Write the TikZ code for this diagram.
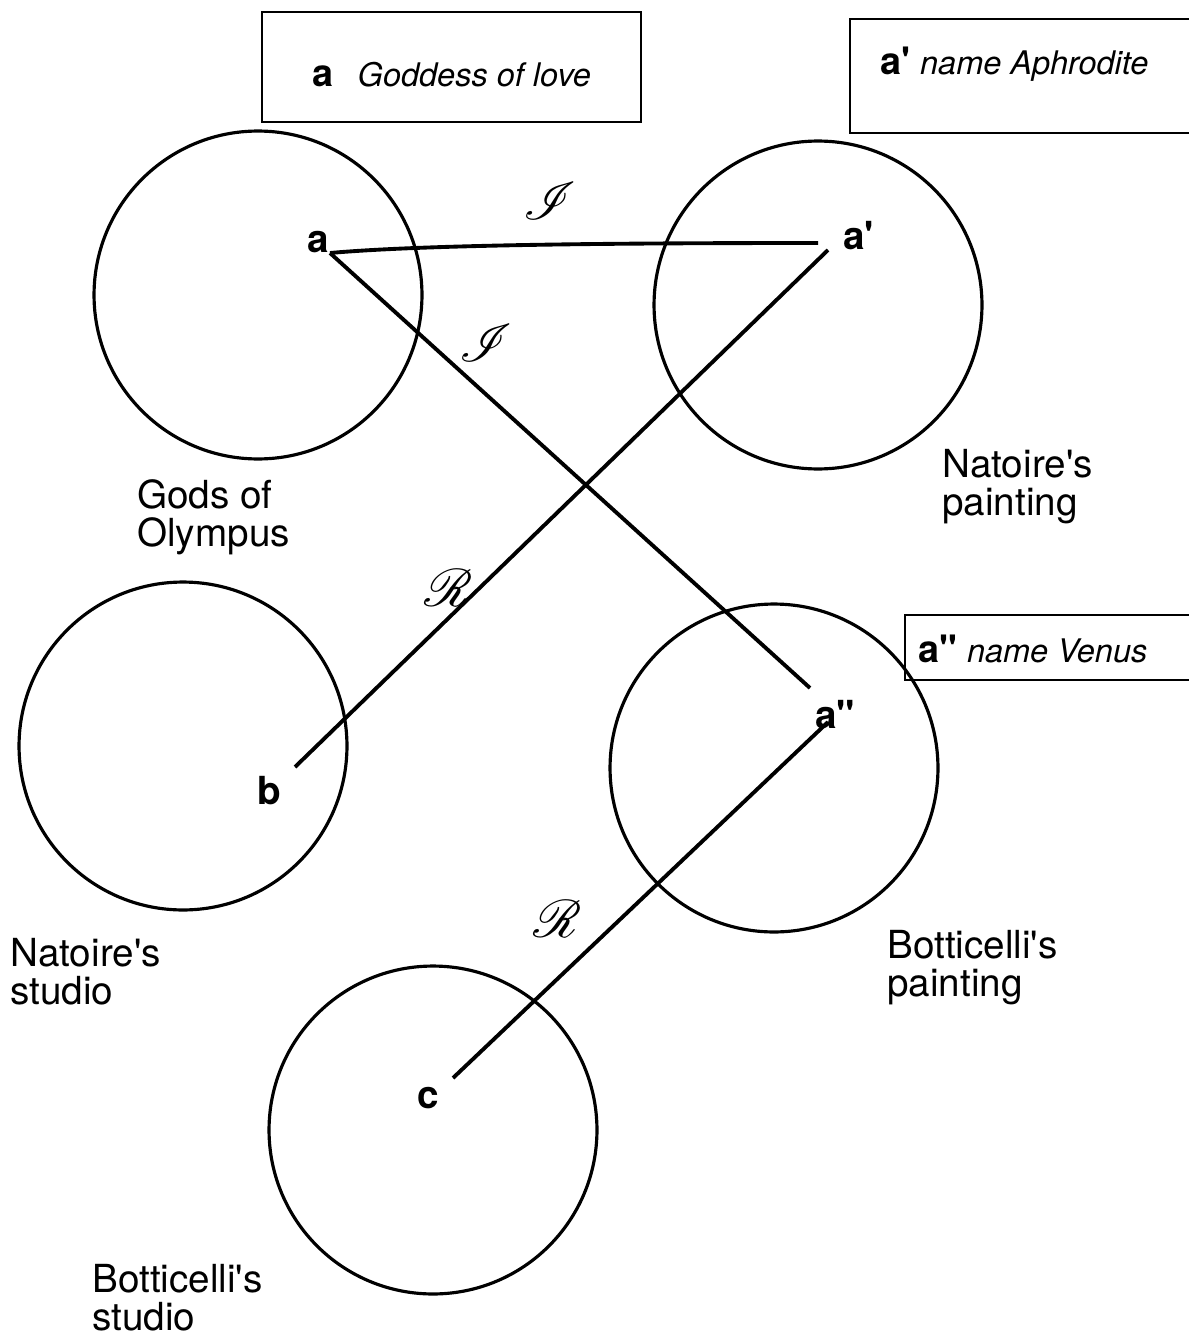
\documentclass[tikz,border=0pt]{standalone}
\usepackage{fontspec}
\setmainfont{TeX Gyre Heros}
\usepackage{mathrsfs}
\tikzset{
	world/.style={line width=1.8pt},
	link/.style={line width=2.2pt},
	tag/.style={line width=1.1pt},
	pt/.style={font=\fontsize{22}{24}\selectfont\bfseries, inner sep=0pt, anchor=base west},
	caption/.style={font=\fontsize{22}{21.5}\selectfont, align=left, inner sep=0pt, anchor=west},
	rel/.style={font=\fontsize{20}{22}\selectfont, inner sep=0pt, scale=1.45},
	tagtext/.style={font=\fontsize{18.5}{20}\selectfont, inner sep=0pt, anchor=base west}
}
\newcommand{\apos}{\textquotesingle}
\newcommand{\dapos}{\textquotedbl}
\newcommand{\tagname}[1]{{\fontsize{21.5}{21.5}\selectfont\bfseries #1}}
\begin{document}
\begin{tikzpicture}[x=0.02cm, y=-0.02cm]
	\useasboundingbox (0,0) rectangle (1188,1338);
	% name boxes
	\draw[tag] (262,12) rectangle (641,122);
	\draw[tag] (850,19) rectangle (1200,133);
	\draw[tag] (905,615) rectangle (1200,680);
	\node[tagtext] (love) at (312,87) {\tagname{a}\hspace{0.75em}\textit{Goddess of love}};
	\node[tagtext] (aphrodite) at (880,75) {\tagname{a\apos}\hspace{0.3em}\textit{name Aphrodite}};
	\node[tagtext] (venus) at (918,662) {\tagname{a\dapos}\hspace{0.3em}\textit{name Venus}};
	% worlds
	\draw[world] (258,295) circle[radius=3.28cm];
	\draw[world] (818,305) circle[radius=3.28cm];
	\draw[world] (183,746) circle[radius=3.28cm];
	\draw[world] (774,768) circle[radius=3.28cm];
	\draw[world] (433,1130) circle[radius=3.28cm];
	\node[caption] (olympus) at (137,517) {Gods of\\Olympus};
	\node[caption] (natpaint) at (942,487) {Natoire\apos s\\painting};
	\node[caption] (natstudio) at (10,972) {Natoire\apos s\\studio};
	\node[caption] (botpaint) at (887,968) {Botticelli\apos s\\painting};
	\node[caption] (botstudio) at (92,1298) {Botticelli\apos s\\studio};
	% objects
	\node[pt] (a) at (307,253) {a};
	\node[pt] (a1) at (843,250) {a\apos};
	\node[pt] (a2) at (815,728) {a\dapos};
	\node[pt] (b) at (257,804) {b};
	\node[pt] (c) at (417,1108) {c};
	\coordinate (pa) at (330,253);
	\coordinate (pa1) at (818,243);
	\coordinate (pa1b) at (828,250);
	\coordinate (pa2) at (810,688);
	\coordinate (pa2c) at (828,722);
	\coordinate (pb) at (295,767);
	\coordinate (pc) at (453,1078);
	\draw[link] (pa) .. controls (420,245) and (600,243) .. (pa1);
	\draw[link] (pa) -- (pa2);
	\draw[link] (pa1b) -- (pb);
	\draw[link] (pa2c) -- (pc);
	\node[rel] (i1) at (550,201) {$\mathscr{I}$};
	\node[rel] (i2) at (486,343) {$\mathscr{I}$};
	\node[rel] (r1) at (449,588) {$\mathscr{R}$};
	\node[rel] (r2) at (558,919) {$\mathscr{R}$};
\end{tikzpicture}
\end{document}
